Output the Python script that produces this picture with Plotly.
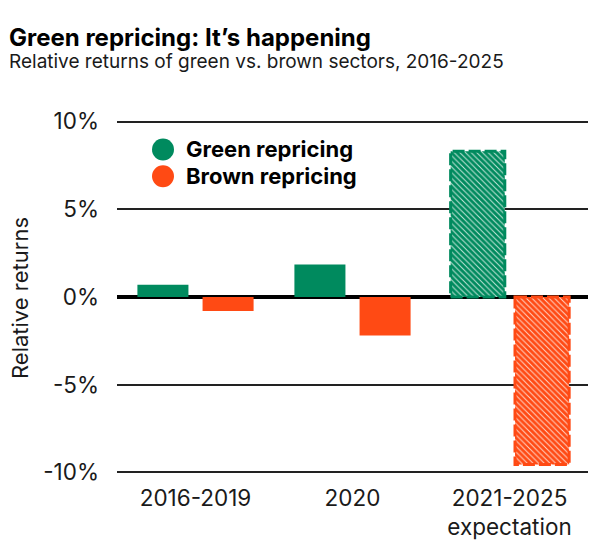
import plotly.graph_objects as go

categories = ["2016-2019", "2020", "2021-2025<br>expectation"]
green_values = [0.7, 1.85, 8.3]
brown_values = [-0.8, -2.2, -9.55]
is_expectation = [False, False, True]
y_tickvals = [-10, -5, 0, 5, 10]
y_ticktext = ["-10%", "-5%", "0%", "5%", "10%"]
series_names = ["Green repricing", "Brown repricing"]

GREEN = "#008A5E"
BROWN = "#FF4A14"
GREEN_BG = "#C4E6D9"
BROWN_BG = "#FFD6C8"
FONT = "Inter"
TXT = "#1a1a1a"

W, H = 600, 551
ML, MR, MT, MB = 117, 12, 117.5, 74.5
PW = W - ML - MR
PH = H - MT - MB

xs = list(range(len(categories)))
widths = [0.345 if e else 0.325 for e in is_expectation]
g_off = [-0.375 if e else -0.37 for e in is_expectation]
b_off = [0.035 if e else 0.045 for e in is_expectation]

fig = go.Figure()

def add_series(values, offs, color, bg):
    for i, v in enumerate(values):
        if is_expectation[i]:
            marker = dict(color=bg,
                          pattern=dict(shape="\\", fgcolor=color, bgcolor=bg,
                                       fgopacity=1, size=4, solidity=0.75),
                          line=dict(width=0))
        else:
            marker = dict(color=color, line=dict(width=0))
        fig.add_trace(go.Bar(x=[xs[i]], y=[v], width=[widths[i]], offset=[offs[i]],
                             marker=marker, showlegend=False, hoverinfo="skip"))
        if is_expectation[i]:
            fig.add_shape(type="rect", xref="x", yref="y",
                          x0=xs[i] + offs[i], x1=xs[i] + offs[i] + widths[i],
                          y0=0, y1=v,
                          line=dict(color=color, width=3, dash="12px,4px"),
                          fillcolor="rgba(0,0,0,0)", layer="above")

add_series(green_values, g_off, GREEN, GREEN_BG)
add_series(brown_values, b_off, BROWN, BROWN_BG)

fig.update_layout(
    width=W, height=H,
    margin=dict(l=ML, r=MR, t=MT, b=MB),
    paper_bgcolor="white", plot_bgcolor="white",
    barmode="overlay",
    font=dict(family=FONT, color=TXT, size=20),
    showlegend=False,
)
fig.update_xaxes(range=[-0.5, 2.5], tickvals=xs, ticktext=categories,
                 showgrid=False, zeroline=False, showline=False,
                 ticks="", ticklabelstandoff=6,
                 tickfont=dict(size=22.5, color=TXT), fixedrange=True)
fig.update_yaxes(range=[-10.2, 10.2], tickvals=y_tickvals, ticktext=y_ticktext,
                 showgrid=True, gridcolor="#222222", gridwidth=1.5,
                 zeroline=True, zerolinecolor="#000000", zerolinewidth=3.5,
                 ticks="", ticklabelstandoff=17,
                 tickfont=dict(size=22.5, color=TXT), fixedrange=True)

def px_x(px):
    return (px - ML) / PW

def px_y(py):
    return (H - MB - py) / PH

# title & subtitle
fig.add_annotation(text="<b>Green repricing: It\u2019s happening</b>", xref="paper", yref="paper",
                   x=px_x(7), y=px_y(37), xanchor="left", yanchor="middle",
                   showarrow=False, font=dict(size=24, color="#000000", family=FONT))
fig.add_annotation(text="Relative returns of green vs. brown sectors, 2016-2025", xref="paper", yref="paper",
                   x=px_x(7), y=px_y(61), xanchor="left", yanchor="middle",
                   showarrow=False, font=dict(size=19, color=TXT, family=FONT))
# y axis title
fig.add_annotation(text="Relative returns", xref="paper", yref="paper",
                   x=px_x(20), y=px_y(298), xanchor="center", yanchor="middle",
                   textangle=-90, showarrow=False, font=dict(size=22, color=TXT, family=FONT))

# custom legend
legend_rows = [149, 176]
for name, color, row in zip(series_names, [GREEN, BROWN], legend_rows):
    r = 11
    fig.add_shape(type="circle", xref="paper", yref="paper",
                  x0=px_x(163 - r), x1=px_x(163 + r), y0=px_y(row + r), y1=px_y(row - r),
                  fillcolor=color, line=dict(width=0))
    fig.add_annotation(text=f"<b>{name}</b>", xref="paper", yref="paper",
                       x=px_x(184), y=px_y(row), xanchor="left", yanchor="middle",
                       showarrow=False, font=dict(size=22, color="#000000", family=FONT))

fig.write_html("out.html", config={"displayModeBar": False},
               post_script="document.body.style.margin='0';")
